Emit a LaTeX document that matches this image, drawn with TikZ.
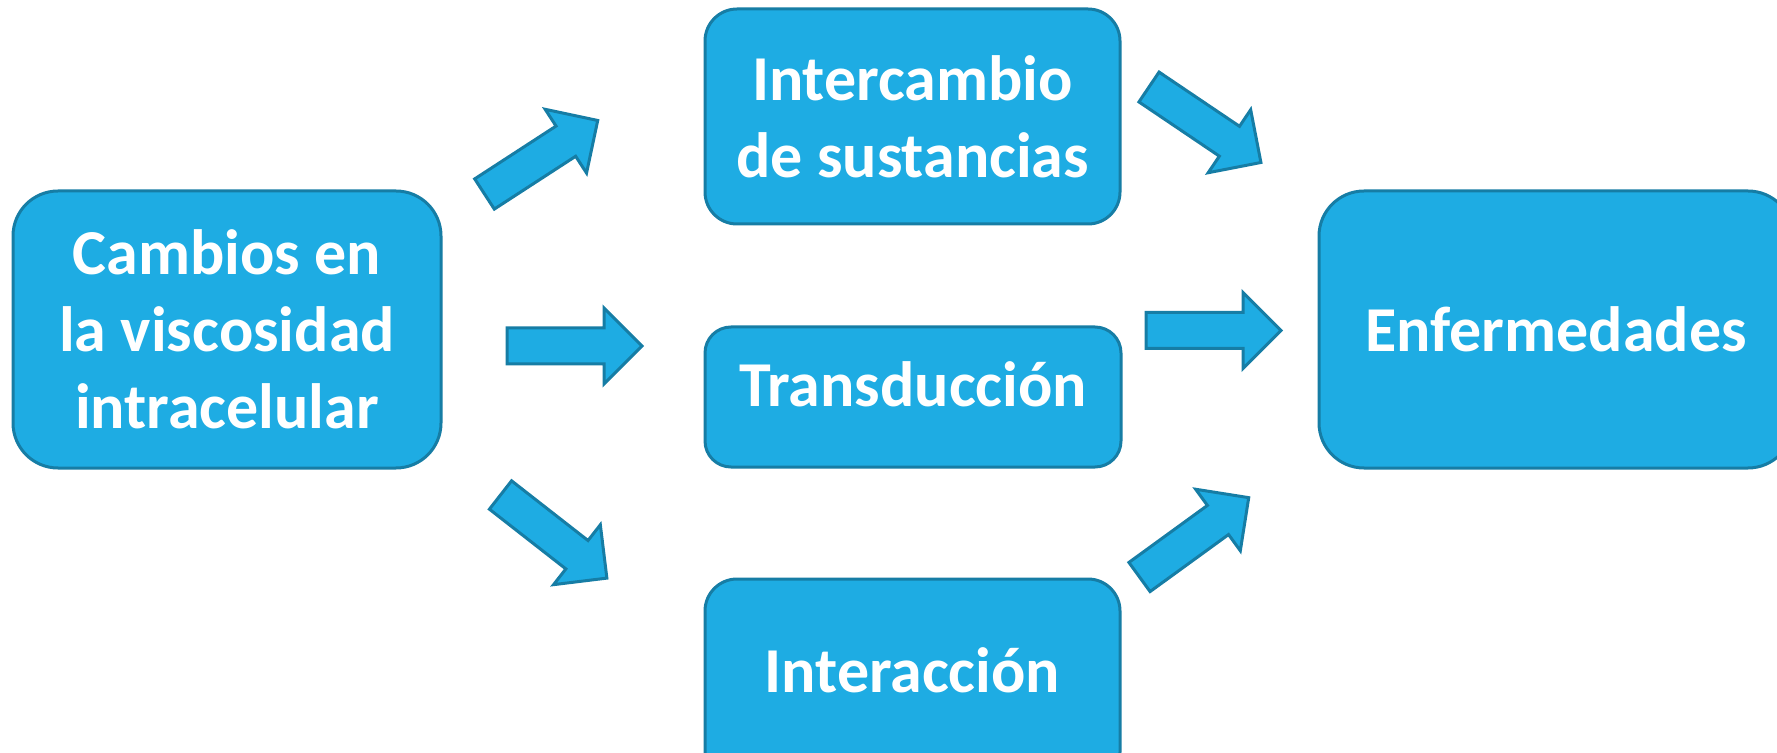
\documentclass[tikz,border=0pt]{standalone}
\usepackage{fontspec}
\setmainfont{Carlito}
\definecolor{relleno}{RGB}{30,172,227}
\definecolor{borde}{RGB}{22,125,165}
\tikzset{flecha/.pic={
    \draw [flechabloque] (0,-18) -- (97,-18) -- (97,-38) -- (135,0) -- (97,38) -- (97,18) -- (0,18) -- cycle;
}}

\begin{document}
\begin{tikzpicture}[x=0.5pt,y=0.5pt]
    \tikzstyle{every node}+=[inner sep=0pt]
    \tikzstyle{caja}=[draw=borde, fill=relleno, line width=1.5pt, text=white, align=center, font=\fontsize{32}{38.5}\selectfont\bfseries]
    \tikzstyle{flechabloque}=[draw=borde, fill=relleno, line width=1.5pt, line join=miter]
    \useasboundingbox (0,0) rectangle (1777,-753);
    \clip (0,0) rectangle (1777,-753);
    % cajas
    \node [caja, rounded corners=22.5pt, minimum width=214pt, minimum height=138.5pt] (cambios) at (227,-329.5) {Cambios en\\la viscosidad\\intracelular};
    \node [caja, rounded corners=16pt, minimum width=207.5pt, minimum height=107.5pt] (intercambio) at (912.5,-116.5) {Intercambio\\de sustancias};
    \node [caja, rounded corners=13pt, minimum width=208pt, minimum height=70pt, text depth=13pt] (transduccion) at (913,-397) {Transducción};
    \node [caja, rounded corners=16pt, minimum width=207.5pt, minimum height=102.5pt, text depth=11pt] (interaccion) at (912.5,-681.5) {Interacción};
    \node [caja, rounded corners=22.5pt, minimum width=237pt, minimum height=138.5pt] (enfermedades) at (1556,-329.5) {Enfermedades};
    % flechas
    \pic [rotate=33] (f1) at (484.5,-194) {flecha};
    \pic (f2) at (507,-346) {flecha};
    \pic [rotate=-38] (f3) at (500.5,-495) {flecha};
    \pic [rotate=-34] (f4) at (1149,-87) {flecha};
    \pic (f5) at (1146,-330.5) {flecha};
    \pic [rotate=36] (f6) at (1139.5,-577) {flecha};
\end{tikzpicture}
\end{document}
